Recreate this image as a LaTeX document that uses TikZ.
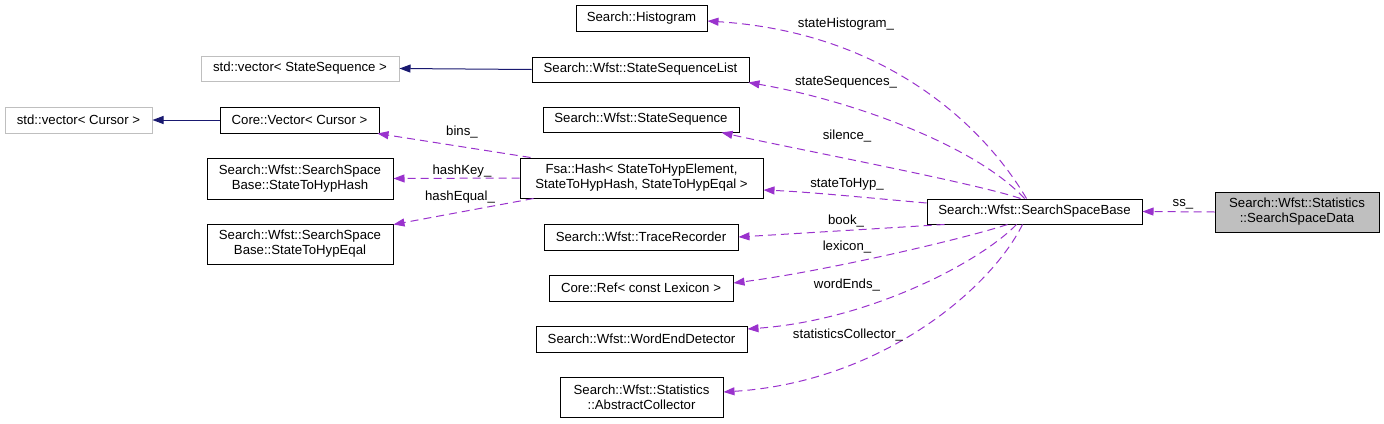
\documentclass[tikz,border=0pt]{standalone}
\usepackage{fontspec}
\setmainfont{Liberation Sans}
\usetikzlibrary{arrows.meta}
\definecolor{edgepurple}{HTML}{9A32CD}
\definecolor{inhblue}{HTML}{191970}
\definecolor{graybd}{HTML}{BFBFBF}
\begin{document}
\begin{tikzpicture}[x=1pt,y=-1pt,
  every node/.style={font=\fontsize{13.2}{15}\selectfont, inner sep=0pt, align=center},
  cls/.style={draw=black, line width=1pt, fill=white},
  ext/.style={draw=graybd, line width=1pt, fill=white},
  cur/.style={draw=black, line width=1pt, fill=graybd},
  uses/.style={draw=edgepurple, line width=1pt, dash pattern=on 8pt off 5pt,
    -{Triangle[length=11pt,width=8pt,fill=edgepurple]}},
  inh/.style={draw=inhblue, line width=1pt,
    -{Triangle[length=11pt,width=8pt,fill=inhblue]}},
  lbl/.style={font=\fontsize{13.2}{15}\selectfont}]
\useasboundingbox (0,0) rectangle (1384,423);
% nodes
\node[ext, minimum width=198, minimum height=25] (vss) at (300,68.5) {std::vector< StateSequence >};
\node[ext, minimum width=147, minimum height=26] (vcur) at (78.5,120) {std::vector< Cursor >};
\node[cls, minimum width=159, minimum height=26] (cvec) at (299.5,120) {Core::Vector< Cursor >};
\node[cls, minimum width=186, minimum height=41] (hhash) at (300,178.5) {Search::Wfst::SearchSpace\\Base::StateToHypHash};
\node[cls, minimum width=186, minimum height=40] (heq) at (300,244) {Search::Wfst::SearchSpace\\Base::StateToHypEqal};
\node[cls, minimum width=131, minimum height=26] (hist) at (641.5,18) {Search::Histogram};
\node[cls, minimum width=217, minimum height=25] (ssl) at (640.5,69.5) {Search::Wfst::StateSequenceList};
\node[cls, minimum width=196, minimum height=25] (sseq) at (641,119.5) {Search::Wfst::StateSequence};
\node[cls, minimum width=243, minimum height=40] (fsa) at (641.5,178) {Fsa::Hash< StateToHypElement,\\ StateToHypHash, StateToHypEqal >};
\node[cls, minimum width=215, minimum height=25] (ssb) at (1034.5,211.5) {Search::Wfst::SearchSpaceBase};
\node[cur, minimum width=164, minimum height=40] (ssd) at (1297,212) {Search::Wfst::Statistics\\::SearchSpaceData};
\node[cls, minimum width=194, minimum height=26] (trace) at (641,237) {Search::Wfst::TraceRecorder};
\node[cls, minimum width=184, minimum height=26] (lex) at (641,288) {Core::Ref< const Lexicon >};
\node[cls, minimum width=211, minimum height=26] (wed) at (641.5,339) {Search::Wfst::WordEndDetector};
\node[cls, minimum width=163, minimum height=40] (coll) at (641.5,397) {Search::Wfst::Statistics\\::AbstractCollector};
% inheritance
\draw[inh] (ssl.west) -- (vss.east);
\draw[inh] (cvec.west) -- (vcur.east);
% usage edges
\draw[uses] (ssd.west) -- (ssb.east);
\draw[uses] ([xshift=-8pt]ssb.north) .. controls (980,120) and (880,32) .. ([yshift=-3pt]hist.east);
\draw[uses] ([xshift=-10pt]ssb.north) .. controls (975,145) and (850,100) .. ([xshift=-1pt]ssl.south east);
\draw[uses] ([xshift=-14pt]ssb.north) .. controls (975,183) and (800,150) .. ([xshift=-18pt]sseq.south east);
\draw[uses] ([yshift=8.5pt]ssb.west) .. controls (870,198) and (810,192) .. ([yshift=-12pt]fsa.east);
\draw[uses] ([xshift=-90pt]ssb.south) -- (trace.east);
\draw[uses] ([xshift=-27pt]ssb.south) .. controls (960,240) and (820,272) .. ([yshift=5pt]lex.east);
\draw[uses] ([xshift=-18pt]ssb.south) .. controls (980,262) and (870,320) .. ([yshift=10pt]wed.east);
\draw[uses] ([xshift=-12pt]ssb.south) .. controls (990,290) and (880,382) .. ([yshift=5pt]coll.east);
\draw[uses] ([xshift=-111pt]fsa.north) -- ([xshift=-2pt]cvec.south east);
\draw[uses] (fsa.west) -- (hhash.east);
\draw[uses] ([xshift=-108pt]fsa.south) -- ([yshift=-1pt]heq.north east);
% labels
\node[lbl] (lhist) at (846,24) {stateHistogram\_};
\node[lbl] (lssl) at (846,82) {stateSequences\_};
\node[lbl] (lsil) at (847,136) {silence\_};
\node[lbl] (lsth) at (847,184) {stateToHyp\_};
\node[lbl] (lbook) at (846,221) {book\_};
\node[lbl] (llex) at (847,247) {lexicon\_};
\node[lbl] (lwe) at (847,285) {wordEnds\_};
\node[lbl] (lsc) at (848,335) {statisticsCollector\_};
\node[lbl] (lss) at (1183,204) {ss\_};
\node[lbl] (lbins) at (462,132) {bins\_};
\node[lbl] (lhk) at (462,171) {hashKey\_};
\node[lbl] (lhe) at (460,197) {hashEqual\_};
\end{tikzpicture}
\end{document}
